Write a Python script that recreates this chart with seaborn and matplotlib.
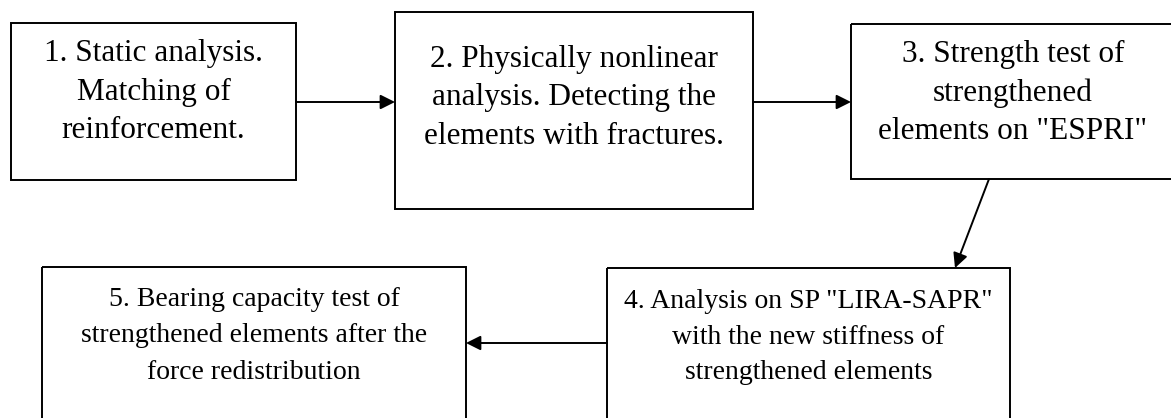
import matplotlib
matplotlib.use("Agg")
import matplotlib.pyplot as plt
import matplotlib.patches as patches
import seaborn as sns

# Flowchart steps (text content)
step_labels = [
    "1. Static analysis.\nMatching of\nreinforcement.",
    "2. Physically nonlinear\nanalysis. Detecting the\nelements with fractures.",
    "3. Strength test of\nstrengthened\nelements on \"ESPRI\"",
    "4. Analysis on SP \"LIRA-SAPR\"\nwith the new stiffness of\nstrengthened elements",
    "5. Bearing capacity test of\nstrengthened elements after the\nforce redistribution",
]
# connections between steps (from, to)
links = [(0, 1), (1, 2), (2, 3), (3, 4)]

# Layout in pixel units: (left, top, right, bottom), and text middle-line y
box_layout = [
    (11, 23, 296, 180),
    (395, 12, 753, 209),
    (851, 24, 1176, 179),
    (607, 268, 1010, 425),
    (42, 267, 466, 425),
]
text_mid_y = [92, 98, 93, 337, 336]
text_x = [None, None, 1013, None, None]
text_size = [22.5, 22.5, 22.5, 20, 20]
text_spacing = [1.41, 1.41, 1.41, 1.55, 1.58]
# arrow endpoints in pixels
arrow_pts = [
    ((296, 102), (395, 102)),
    ((753, 102), (851, 102)),
    ((989, 179), (955, 268)),
    ((607, 343), (466, 343)),
]

sns.set_theme(style="white")
plt.rcParams['font.family'] = ['Liberation Serif', 'DejaVu Serif']

W, H = 1171, 418
fig = plt.figure(figsize=(W / 100, H / 100), dpi=100)
ax = fig.add_axes([0, 0, 1, 1])
ax.set_xlim(0, W)
ax.set_ylim(H, 0)
ax.axis('off')

for i, label in enumerate(step_labels):
    l, t, r, b = box_layout[i]
    ax.add_patch(patches.Rectangle((l, t), r - l, b - t, fill=False,
                                   edgecolor='black', linewidth=1.4,
                                   joinstyle='miter'))
    cx = text_x[i] if text_x[i] is not None else (l + r) / 2
    ax.text(cx, text_mid_y[i], label, ha='center', va='center',
            fontsize=text_size[i], color='black', linespacing=text_spacing[i])

for (a, b), (p0, p1) in zip(links, arrow_pts):
    ax.annotate('', xy=p1, xytext=p0,
                arrowprops=dict(arrowstyle='-|>', color='black', lw=1.4,
                                mutation_scale=22, shrinkA=0, shrinkB=0))

plt.savefig('out.png', dpi=100)
plt.close()
